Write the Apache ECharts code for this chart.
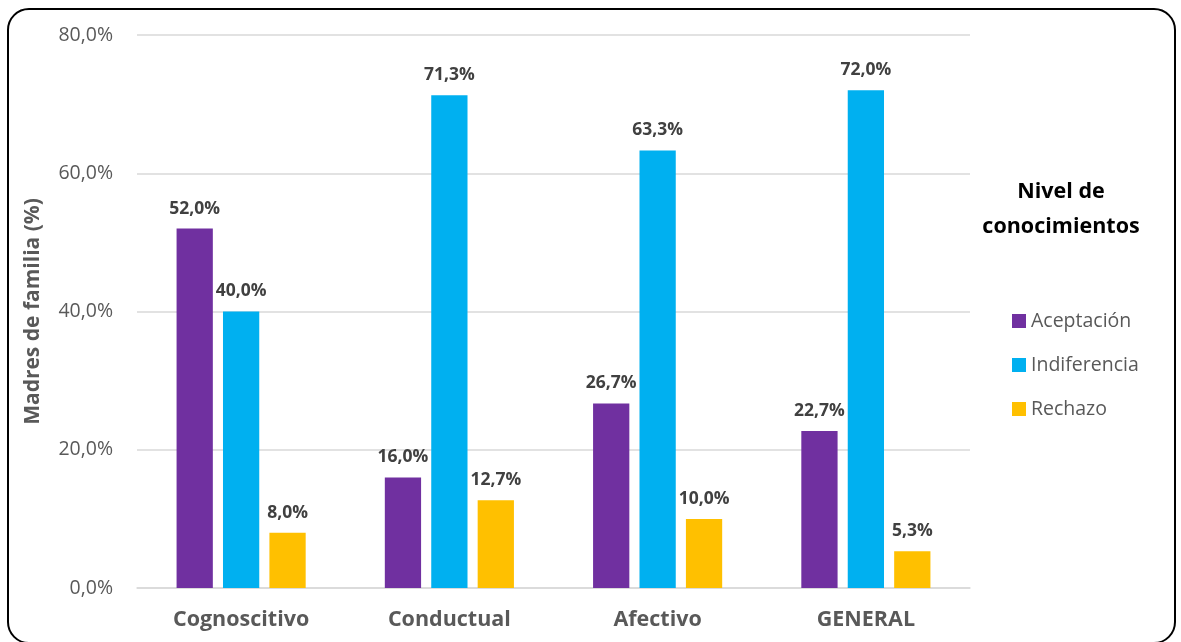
<!DOCTYPE html>
<html>
<head>
<meta charset="utf-8">
<script src="https://cdn.jsdelivr.net/npm/echarts@6/dist/echarts.min.js"></script>
<style>
  html, body { margin: 0; padding: 0; background: #fff; }
  #frame { position: absolute; left: 7px; top: 8px; width: 1169px; height: 636px;
           border: 2px solid #000; border-radius: 22px; box-sizing: border-box; }
  #main { position: absolute; left: 0; top: 0; width: 1181px; height: 642px; }
</style>
</head>
<body>
<div id="frame"></div>
<div id="main"></div>
<script>
// datos del gráfico
var categorias = ['Cognoscitivo', 'Conductual', 'Afectivo', 'GENERAL'];
var aceptacion = [52.0, 16.0, 26.7, 22.7];
var indiferencia = [40.0, 71.3, 63.3, 72.0];
var rechazo = [8.0, 12.7, 10.0, 5.3];
var ticksY = [0, 20, 40, 60, 80];

var fuente = 'Open Sans';
var pct = function (v) { return v.toFixed(1).replace('.', ',') + '%'; };

var etiqueta = {
  show: true,
  position: 'top',
  distance: 11,
  fontFamily: fuente,
  fontWeight: 'bold',
  fontSize: 17.5,
  color: '#404040',
  formatter: function (p) { return pct(p.value); }
};

var myChart = echarts.init(document.getElementById('main'));
var option = {
  textStyle: { fontFamily: fuente },
  color: ['#7030A0', '#00B0F0', '#FFC000'],
  title: {
    text: 'Nivel de\nconocimientos',
    left: 1056,
    top: 169,
    textAlign: 'center',
    textStyle: { fontFamily: fuente, fontWeight: 'bold', fontSize: 21.5, color: '#000', lineHeight: 35 }
  },
  legend: {
    orient: 'vertical',
    left: 1007,
    top: 306,
    icon: 'rect',
    itemWidth: 14,
    itemHeight: 14,
    itemGap: 24,
    itemStyle: { borderWidth: 0 },
    textStyle: { fontFamily: fuente, fontSize: 19.5, color: '#595959' },
    data: ['Aceptación', 'Indiferencia', 'Rechazo']
  },
  grid: { left: 137, right: 211, top: 35, bottom: 54 },
  xAxis: {
    type: 'category',
    data: categorias,
    axisTick: { show: false },
    axisLine: { lineStyle: { color: '#d9d9d9', width: 1.5 } },
    axisLabel: { margin: 21, fontFamily: fuente, fontWeight: 'bold', fontSize: 21.5, color: '#595959' }
  },
  yAxis: {
    type: 'value',
    min: ticksY[0],
    max: ticksY[ticksY.length - 1],
    interval: 20,
    name: 'Madres de familia (%)',
    nameLocation: 'middle',
    nameGap: 93,
    nameTextStyle: { fontFamily: fuente, fontWeight: 'bold', fontSize: 21, color: '#595959' },
    axisLabel: { margin: 24, fontFamily: fuente, fontSize: 19.5, color: '#595959', formatter: function (v) { return pct(v); } },
    splitLine: { lineStyle: { color: '#d9d9d9', width: 1.5 } }
  },
  series: [
    { name: 'Aceptación', type: 'bar', data: aceptacion, barGap: '28%', barCategoryGap: '38%', label: etiqueta },
    { name: 'Indiferencia', type: 'bar', data: indiferencia, label: etiqueta },
    { name: 'Rechazo', type: 'bar', data: rechazo, label: etiqueta }
  ]
};
myChart.setOption(option);
</script>
</body>
</html>
